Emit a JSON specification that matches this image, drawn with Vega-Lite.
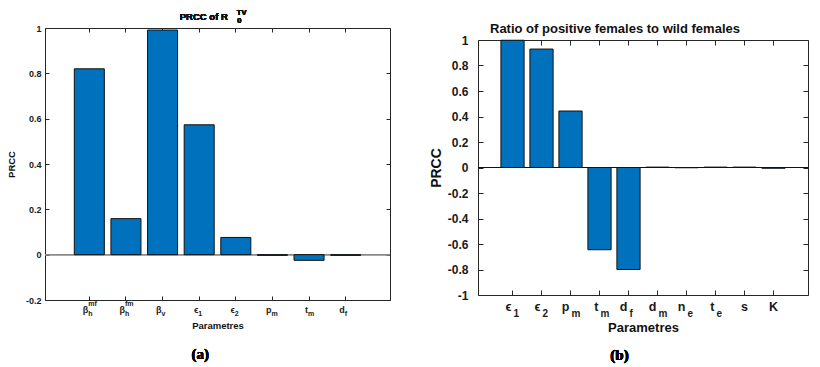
{
  "$schema": "https://vega.github.io/schema/vega-lite/v6.json",
  "background": "white",
  "padding": {"left": 5, "top": 8, "right": 5, "bottom": 2},
  "spacing": 37,
  "datasets": {
    "a": [
      {"param": "bmf", "base": "β", "sub": "h", "sup": "mf", "prcc": 0.82},
      {"param": "bfm", "base": "β", "sub": "h", "sup": "fm", "prcc": 0.159},
      {"param": "bv", "base": "β", "sub": "v", "sup": "", "prcc": 0.991},
      {"param": "e1", "base": "ϵ", "sub": "1", "sup": "", "prcc": 0.573},
      {"param": "e2", "base": "ϵ", "sub": "2", "sup": "", "prcc": 0.076},
      {"param": "pm", "base": "p", "sub": "m", "sup": "", "prcc": -0.003},
      {"param": "tm", "base": "t", "sub": "m", "sup": "", "prcc": -0.025},
      {"param": "df", "base": "d", "sub": "f", "sup": "", "prcc": -0.003}
    ],
    "b": [
      {"param": "e1", "base": "ϵ", "sub": "1", "prcc": 0.998},
      {"param": "e2", "base": "ϵ", "sub": "2", "prcc": 0.929},
      {"param": "pm", "base": "p", "sub": "m", "prcc": 0.443},
      {"param": "tm", "base": "t", "sub": "m", "prcc": -0.645},
      {"param": "df", "base": "d", "sub": "f", "prcc": -0.8},
      {"param": "dm", "base": "d", "sub": "m", "prcc": 0.003},
      {"param": "ne", "base": "n", "sub": "e", "prcc": -0.002},
      {"param": "te", "base": "t", "sub": "e", "prcc": 0.003},
      {"param": "s", "base": "s", "sub": "", "prcc": 0.003},
      {"param": "K", "base": "K", "sub": "", "prcc": -0.006}
    ]
  },
  "hconcat": [
    {
      "width": 345,
      "height": 272,
      "data": {"name": "a"},
      "resolve": {"axis": {"x": "independent", "y": "independent"}},
      "layer": [
        {
          "mark": {"type": "rule", "color": "#8a8a8a", "strokeWidth": 1},
          "encoding": {"y": {"datum": 0, "type": "quantitative", "axis": null}}
        },
        {
          "mark": {"type": "bar", "fill": "#0072BD", "stroke": "#111111", "strokeWidth": 1},
          "encoding": {
            "x": {"field": "param", "type": "nominal", "sort": null,
                  "scale": {"paddingInner": 0.18, "paddingOuter": 0.8},
                  "axis": {"orient": "bottom", "labels": false, "domain": false, "offset": -4, "tickSize": 4, "title": "Parametres", "titleFontSize": 9.5, "titlePadding": 20}},
            "y": {"field": "prcc", "type": "quantitative",
                  "scale": {"domain": [-0.2, 1], "nice": false},
                  "axis": {"orient": "left", "values": [-0.2, 0, 0.2, 0.4, 0.6, 0.8, 1], "labelExpr": "toString(round(datum.value*10)/10)", "domain": false, "offset": -4, "tickSize": 4, "labelPadding": 4, "labelFontSize": 9, "title": "PRCC", "titleFontSize": 9.5, "titlePadding": 9}}
          }
        },
        {
          "mark": {"type": "bar", "opacity": 0},
          "encoding": {
            "x": {"field": "param", "type": "nominal", "sort": null,
                  "axis": {"orient": "top", "labels": false, "domain": false, "offset": -4, "tickSize": 4, "title": null}},
            "y": {"field": "prcc", "type": "quantitative",
                  "axis": {"orient": "right", "values": [-0.2, 0, 0.2, 0.4, 0.6, 0.8, 1], "labels": false, "domain": false, "offset": -4, "tickSize": 4, "title": null}}
          }
        },
        {
          "mark": {"type": "text", "text": "PRCC of R", "align": "right", "baseline": "alphabetic", "dx": -8, "dy": -8, "font": "Liberation Sans", "fontWeight": "bold", "fontSize": 9.5, "color": "#111111"},
          "encoding": {
            "x": {"datum": "e2", "type": "nominal", "axis": null},
            "y": {"datum": 1, "type": "quantitative", "axis": null}
          }
        },
        {
          "mark": {"type": "text", "text": "TV", "align": "left", "baseline": "alphabetic", "dx": 1, "dy": -13.3, "font": "Liberation Sans", "fontWeight": "bold", "fontSize": 7.5, "color": "#111111"},
          "encoding": {
            "x": {"datum": "e2", "type": "nominal", "axis": null},
            "y": {"datum": 1, "type": "quantitative", "axis": null}
          }
        },
        {
          "mark": {"type": "text", "text": "0", "align": "left", "baseline": "alphabetic", "dx": 1.5, "dy": -5, "font": "Liberation Sans", "fontWeight": "bold", "fontSize": 7.5, "color": "#111111"},
          "encoding": {
            "x": {"datum": "e2", "type": "nominal", "axis": null},
            "y": {"datum": 1, "type": "quantitative", "axis": null}
          }
        },
        {
          "mark": {"type": "text", "text": "(a)", "align": "center", "baseline": "middle", "dx": 1, "dy": 54, "font": "Liberation Serif", "fontWeight": "bold", "fontSize": 15, "color": "black"},
          "encoding": {
            "x": {"datum": "e1", "type": "nominal", "axis": null},
            "y": {"datum": -0.2, "type": "quantitative", "axis": null}
          }
        },
        {
          "transform": [{"filter": "datum.sub != ''"}],
          "mark": {"type": "text", "align": "right", "baseline": "middle", "dx": -1, "dy": 10, "font": "Liberation Sans", "fontWeight": "bold", "fontSize": 9, "color": "#1a1a1a"},
          "encoding": {
            "x": {"field": "param", "type": "nominal", "sort": null, "axis": null},
            "y": {"datum": -0.2, "type": "quantitative", "axis": null},
            "text": {"field": "base"}
          }
        },
        {
          "transform": [{"filter": "datum.sub != ''"}],
          "mark": {"type": "text", "align": "left", "baseline": "middle", "dx": -1, "dy": 14, "font": "Liberation Sans", "fontWeight": "bold", "fontSize": 7, "color": "#1a1a1a"},
          "encoding": {
            "x": {"field": "param", "type": "nominal", "sort": null, "axis": null},
            "y": {"datum": -0.2, "type": "quantitative", "axis": null},
            "text": {"field": "sub"}
          }
        },
        {
          "transform": [{"filter": "datum.sup != ''"}],
          "mark": {"type": "text", "align": "left", "baseline": "middle", "dx": -1, "dy": 4, "font": "Liberation Sans", "fontWeight": "bold", "fontSize": 7, "color": "#1a1a1a"},
          "encoding": {
            "x": {"field": "param", "type": "nominal", "sort": null, "axis": null},
            "y": {"datum": -0.2, "type": "quantitative", "axis": null},
            "text": {"field": "sup"}
          }
        }
      ]
    },
    {
      "spacing": -3,
      "vconcat": [
        {
          "width": 330,
          "height": 1,
          "title": {"text": "Ratio of positive females to wild females", "fontSize": 13, "frame": "group", "anchor": "start", "dx": 12, "offset": -8},
          "view": {"stroke": null},
          "mark": {"type": "rule", "opacity": 0},
          "encoding": {}
        },
        {
          "width": 330,
          "height": 255,
          "data": {"name": "b"},
          "resolve": {"axis": {"x": "independent", "y": "independent"}},
          "layer": [
            {
              "mark": {"type": "rule", "color": "#111111", "strokeWidth": 1},
              "encoding": {"y": {"datum": 0, "type": "quantitative", "axis": null}}
            },
            {
              "mark": {"type": "bar", "fill": "#0072BD", "stroke": "#111111", "strokeWidth": 1},
              "encoding": {
                "x": {"field": "param", "type": "nominal", "sort": null,
                      "scale": {"paddingInner": 0.2, "paddingOuter": 0.79},
                      "axis": {"orient": "bottom", "labels": false, "domain": false, "offset": -5, "tickSize": 5, "title": "Parametres", "titleFontSize": 13, "titlePadding": 26}},
                "y": {"field": "prcc", "type": "quantitative",
                      "scale": {"domain": [-1, 1], "nice": false},
                      "axis": {"orient": "left", "values": [-1, -0.8, -0.6, -0.4, -0.2, 0, 0.2, 0.4, 0.6, 0.8, 1], "labelExpr": "toString(round(datum.value*10)/10)", "domain": false, "offset": -5, "tickSize": 5, "labelPadding": 10, "labelFontSize": 12, "title": "PRCC", "titleFontSize": 14, "titlePadding": 4}}
              }
            },
            {
              "mark": {"type": "bar", "opacity": 0},
              "encoding": {
                "x": {"field": "param", "type": "nominal", "sort": null,
                      "axis": {"orient": "top", "labels": false, "domain": false, "offset": -5, "tickSize": 5, "title": null}},
                "y": {"field": "prcc", "type": "quantitative",
                      "axis": {"orient": "right", "values": [-1, -0.8, -0.6, -0.4, -0.2, 0, 0.2, 0.4, 0.6, 0.8, 1], "labels": false, "domain": false, "offset": -5, "tickSize": 5, "title": null}}
              }
            },
            {
              "mark": {"type": "text", "text": "(b)", "align": "center", "baseline": "middle", "dx": -9, "dy": 60, "font": "Liberation Serif", "fontWeight": "bold", "fontSize": 15, "color": "black"},
              "encoding": {
                "x": {"datum": "df", "type": "nominal", "axis": null},
                "y": {"datum": -1, "type": "quantitative", "axis": null}
              }
            },
            {
              "transform": [{"filter": "datum.sub != ''"}],
              "mark": {"type": "text", "align": "right", "baseline": "middle", "dx": -1, "dy": 12, "font": "Liberation Sans", "fontWeight": "bold", "fontSize": 12.5, "color": "#1a1a1a"},
              "encoding": {
                "x": {"field": "param", "type": "nominal", "sort": null, "axis": null},
                "y": {"datum": -1, "type": "quantitative", "axis": null},
                "text": {"field": "base"}
              }
            },
            {
              "transform": [{"filter": "datum.sub == ''"}],
              "mark": {"type": "text", "align": "center", "baseline": "middle", "dy": 12, "font": "Liberation Sans", "fontWeight": "bold", "fontSize": 12.5, "color": "#1a1a1a"},
              "encoding": {
                "x": {"field": "param", "type": "nominal", "sort": null, "axis": null},
                "y": {"datum": -1, "type": "quantitative", "axis": null},
                "text": {"field": "base"}
              }
            },
            {
              "transform": [{"filter": "datum.sub != ''"}],
              "mark": {"type": "text", "align": "left", "baseline": "middle", "dx": 1, "dy": 19, "font": "Liberation Sans", "fontWeight": "bold", "fontSize": 10, "color": "#1a1a1a"},
              "encoding": {
                "x": {"field": "param", "type": "nominal", "sort": null, "axis": null},
                "y": {"datum": -1, "type": "quantitative", "axis": null},
                "text": {"field": "sub"}
              }
            }
          ]
        }
      ]
    }
  ],
  "config": {
    "font": "Liberation Sans",
    "view": {"stroke": "#262626", "strokeWidth": 1},
    "axis": {
      "labelFont": "Liberation Sans", "labelFontWeight": "bold", "labelColor": "#1a1a1a",
      "titleFont": "Liberation Sans", "titleFontWeight": "bold", "titleColor": "#111111",
      "domainColor": "#262626", "tickColor": "#262626", "grid": false
    },
    "title": {"font": "Liberation Sans", "fontWeight": "bold", "color": "#111111"}
  }
}
